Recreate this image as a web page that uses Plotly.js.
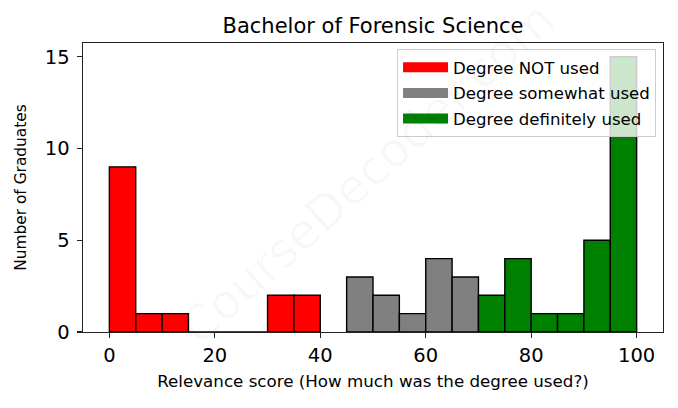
<!DOCTYPE html>
<html>
<head>
<meta charset="utf-8">
<script src="https://cdn.plot.ly/plotly-3.0.1.min.js"></script>
<style>html,body{margin:0;padding:0;background:#fff;}#chart{width:678px;height:408px;}</style>
</head>
<body>
<div id="chart"></div>
<script>
// Histogram bins (bin start, width 5) and counts per category
const notUsedBins = [0, 5, 10, 15, 20, 25, 30, 35];
const notUsedCounts = [9, 1, 1, 0, 0, 0, 2, 2];
const somewhatBins = [45, 50, 55, 60, 65];
const somewhatCounts = [3, 2, 1, 4, 3];
const definitelyBins = [70, 75, 80, 85, 90, 95];
const definitelyCounts = [2, 4, 1, 1, 5, 15];
const seriesNames = ["Degree NOT used", "Degree somewhat used", "Degree definitely used"];
const seriesColors = ["#ff0000", "#808080", "#008000"];
const xTicks = [0, 20, 40, 60, 80, 100];
const yTicks = [0, 5, 10, 15];

const FONT = "DejaVu Sans, sans-serif";
function barTrace(bins, counts, i) {
  return {
    type: "bar", x: bins, y: counts, width: 5, offset: 0, name: seriesNames[i],
    marker: {color: seriesColors[i], line: {color: "#000", width: 1.4}},
    showlegend: false, hoverinfo: "skip"
  };
}
// legend-only entries (wide colour patches without edge)
function legendTrace(i) {
  return {
    type: "scatter", mode: "lines", x: [null], y: [null], name: seriesNames[i], legendgroup: "g" + i,
    line: {color: seriesColors[i], width: 13}, showlegend: true, hoverinfo: "skip"
  };
}
const data = [
  barTrace(notUsedBins, notUsedCounts, 0),
  barTrace(somewhatBins, somewhatCounts, 1),
  barTrace(definitelyBins, definitelyCounts, 2),
  legendTrace(0), legendTrace(1), legendTrace(2)
];
const layout = {
  width: 678, height: 408,
  margin: {l: 83, r: 15, t: 43, b: 76},
  paper_bgcolor: "#fff", plot_bgcolor: "#fff",
  font: {family: FONT, color: "#000"},
  title: {text: "Bachelor of Forensic Science", font: {size: 21, family: FONT, color: "#000"},
          x: 0.5, xref: "paper", xanchor: "center", y: 1, yref: "paper", yanchor: "bottom", pad: {b: 10}},
  barmode: "overlay",
  showlegend: true,
  legend: {x: 0.988, y: 0.979, xanchor: "right", yanchor: "top",
           bgcolor: "rgba(255,255,255,0.8)", bordercolor: "#cccccc", borderwidth: 1,
           font: {size: 16.6, family: FONT, color: "#000"}, tracegroupgap: 1, itemwidth: 45},
  xaxis: {range: [-5, 105], tickvals: xTicks, ticktext: xTicks.map(String),
          ticks: "outside", ticklen: 5, tickwidth: 1.2, tickcolor: "#222",
          showline: true, mirror: true, linecolor: "#222", linewidth: 1.4,
          showgrid: false, zeroline: false,
          tickfont: {size: 19.5, family: FONT, color: "#000"},
          title: {text: "Relevance score (How much was the degree used?)", font: {size: 16.7, family: FONT, color: "#000"}, standoff: 9}},
  yaxis: {range: [0, 15.75], tickvals: yTicks, ticktext: yTicks.map(String),
          ticks: "outside", ticklen: 5, tickwidth: 1.2, tickcolor: "#222",
          showline: true, mirror: true, linecolor: "#222", linewidth: 1.4,
          showgrid: false, zeroline: false, ticklabelstandoff: 3,
          tickfont: {size: 19.5, family: FONT, color: "#000"},
          title: {text: "Number of Graduates", font: {size: 15.4, family: FONT, color: "#000"}, standoff: 14}},
  annotations: [{
    text: "CourseDecoder.com", xref: "paper", yref: "paper", x: 0.49, y: 0.55,
    showarrow: false, textangle: -42, font: {size: 48, family: FONT, color: "rgba(0,0,0,0.028)"}
  }]
};
Plotly.newPlot("chart", data, layout, {staticPlot: true, displayModeBar: false});
</script>
</body>
</html>
